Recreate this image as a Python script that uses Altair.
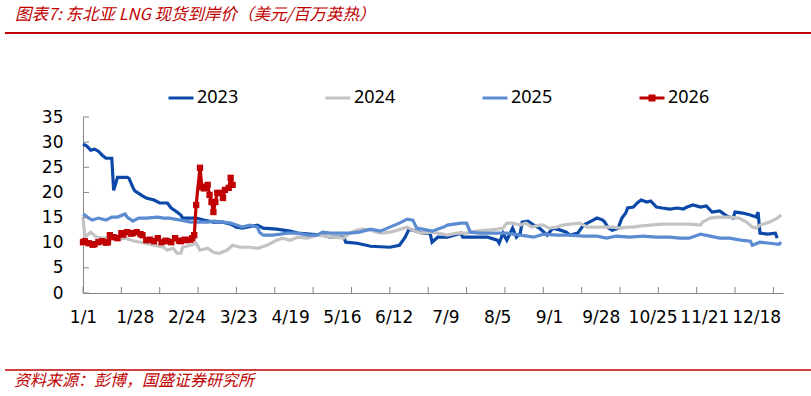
import altair as alt
import pandas as pd

# ---------------- data ----------------
series_names = ["2023", "2024", "2025", "2026"]
series_colors = ["#0B48A8", "#C3C3C3", "#5B8BD0", "#C00000"]

s2023 = [(0, 29.6), (2, 29.2), (4, 28.4), (6, 28.6), (8, 28.2), (10, 27.4), (12, 26.8), (15, 26.8),
         (16, 20.4), (18, 23.0), (23, 23.0), (24, 22.8), (26, 21.0), (27, 20.3), (31, 19.3), (33, 18.9),
         (37, 18.5), (40, 17.9), (44, 17.9), (46, 16.9), (49, 16.1), (51, 15.5), (52, 14.9), (54, 14.9),
         (59, 14.9), (63, 14.5), (68, 14.1), (73, 14.1), (77, 13.7), (80, 13.1), (83, 12.9), (91, 13.5),
         (94, 12.9), (101, 12.7), (108, 12.3), (112, 11.9), (118, 11.7), (125, 11.5), (129, 11.1),
         (136, 11.1), (137, 10.1), (143, 9.9), (150, 9.3), (160, 9.1), (165, 9.5), (168, 11.1),
         (170, 12.7), (172, 12.5), (177, 11.9), (181, 11.9), (182, 10.1), (185, 11.1), (190, 11.1),
         (197, 11.9), (198, 11.1), (203, 11.1), (211, 11.1), (216, 10.5), (217, 9.9), (219, 11.9),
         (221, 10.5), (224, 12.9), (226, 11.1), (228, 11.9), (229, 14.1), (232, 14.3), (235, 13.5),
         (238, 12.9), (242, 11.5), (245, 12.9), (249, 12.5), (252, 12.1), (254, 11.5), (258, 11.9),
         (261, 13.5), (264, 14.1), (268, 14.9), (271, 14.5), (272, 14.1), (274, 12.9), (276, 12.5),
         (279, 12.9), (281, 14.9), (283, 15.9), (284, 16.9), (287, 17.1), (289, 17.9), (291, 18.5),
         (294, 18.1), (296, 18.3), (299, 17.1), (302, 16.9), (306, 16.7), (310, 16.9), (313, 16.7),
         (315, 17.1), (318, 17.5), (322, 17.1), (325, 17.3), (328, 16.1), (332, 16.3), (335, 15.5),
         (337, 15.1), (339, 14.9), (340, 16.1), (344, 15.9), (348, 15.5), (351, 15.1), (352, 16.1),
         (353, 11.9), (357, 11.7), (361, 11.9), (362, 10.9)]

s2024 = [(0, 15.1), (1, 11.1), (4, 12.1), (7, 11.1), (10, 10.9), (14, 11.0), (18, 10.6), (22, 10.9),
         (26, 10.4), (30, 10.1), (33, 9.9), (37, 9.5), (42, 9.1), (44, 8.5), (47, 8.9), (49, 7.9),
         (51, 7.9), (52, 9.1), (56, 9.5), (59, 9.9), (61, 8.5), (65, 8.9), (68, 8.1), (71, 7.9),
         (75, 8.5), (78, 9.5), (82, 9.1), (87, 9.1), (91, 8.9), (96, 9.5), (101, 10.5), (104, 10.9),
         (108, 10.5), (112, 11.1), (117, 10.9), (122, 11.5), (127, 11.3), (130, 11.1), (136, 10.9),
         (139, 11.9), (143, 12.5), (146, 12.7), (150, 12.5), (153, 12.1), (156, 11.9), (160, 12.1),
         (164, 12.5), (169, 13.1), (172, 12.5), (176, 11.9), (181, 12.1), (185, 11.9), (190, 11.5),
         (195, 11.9), (200, 11.9), (205, 12.3), (211, 12.5), (216, 12.7), (219, 12.9), (221, 13.9),
         (224, 13.9), (228, 13.5), (231, 13.9), (234, 13.1), (238, 13.5), (240, 13.5), (243, 12.9),
         (247, 13.1), (250, 13.5), (254, 13.7), (259, 13.9), (263, 13.1), (266, 13.1), (271, 13.1),
         (276, 13.1), (280, 12.9), (284, 13.1), (287, 13.1), (290, 13.3), (296, 13.5), (302, 13.7),
         (310, 13.7), (316, 13.7), (322, 13.5), (323, 14.1), (327, 14.9), (332, 15.1), (337, 15.1),
         (342, 14.9), (346, 14.1), (349, 13.1), (351, 12.9), (353, 13.5), (358, 14.1), (362, 14.9),
         (364, 15.5)]

s2025 = [(0, 15.7), (1, 15.5), (3, 14.9), (5, 14.5), (8, 14.9), (12, 14.5), (15, 15.1), (18, 15.1),
         (22, 15.7), (23, 15.1), (26, 14.3), (29, 14.9), (33, 14.9), (39, 15.1), (42, 14.9), (45, 14.9),
         (51, 14.5), (56, 14.1), (61, 14.1), (65, 14.1), (68, 14.3), (73, 14.1), (77, 13.9), (80, 13.5),
         (83, 13.1), (87, 13.5), (91, 13.1), (92, 12.1), (94, 11.5), (99, 11.5), (103, 11.7),
         (106, 11.9), (112, 11.9), (117, 11.5), (122, 11.5), (125, 12.1), (129, 11.9), (134, 11.9),
         (139, 11.9), (144, 12.1), (150, 12.7), (155, 12.3), (160, 13.1), (165, 13.9), (169, 14.7),
         (172, 14.5), (174, 12.9), (177, 12.7), (182, 12.3), (188, 13.1), (190, 13.5), (197, 13.9),
         (200, 13.9), (202, 12.1), (207, 11.9), (214, 11.9), (221, 11.9), (228, 11.5), (235, 11.1),
         (240, 11.7), (247, 11.5), (254, 11.5), (261, 11.3), (268, 11.3), (273, 10.9), (278, 11.3),
         (285, 11.1), (292, 11.3), (299, 11.1), (306, 11.1), (311, 10.9), (316, 10.9), (322, 11.7),
         (327, 11.3), (332, 10.9), (337, 10.9), (343, 10.5), (348, 10.3), (349, 9.5), (353, 10.1),
         (358, 9.9), (363, 9.7), (364, 10.1)]

s2026 = [(0, 10.1), (1, 10.3), (3, 9.9), (5, 9.6), (6, 9.7), (8, 10.1), (10, 10.3), (12, 10.0),
         (13, 10.1), (14, 11.5), (16, 11.1), (18, 10.9), (20, 11.9), (21, 11.6), (23, 12.1), (25, 11.8),
         (26, 11.9), (28, 12.1), (30, 11.7), (31, 11.5), (33, 10.5), (35, 10.6), (37, 10.3), (39, 10.9),
         (41, 10.1), (43, 10.4), (44, 10.3), (46, 10.1), (48, 10.9), (50, 10.4), (51, 10.3), (53, 10.6),
         (54, 10.5), (56, 10.6), (57, 10.9), (58, 11.5), (59, 17.5), (61, 24.9), (62, 21.1), (63, 20.8),
         (64, 21.1), (65, 21.5), (66, 19.5), (67, 18.1), (68, 16.1), (69, 18.1), (70, 19.9), (71, 19.9),
         (73, 18.9), (74, 20.5), (76, 20.9), (77, 22.9), (78, 21.5)]

label_days = [0, 27, 54, 81, 108, 135, 162, 189, 216, 243, 270, 297, 324, 351]
tick_days = [0, 20, 40, 60, 80, 100, 120, 140, 160, 180, 200, 220, 240, 260, 280, 300, 320, 340, 360]
y_ticks = [0, 5, 10, 15, 20, 25, 30, 35]

title_text = "图表7:  东北亚 LNG 现货到岸价（美元/百万英热）"
source_text = "资料来源：彭博，国盛证券研究所"

# ---------------- build table ----------------
rows = []
for name, pts in zip(series_names, [s2023, s2024, s2025, s2026]):
    for d, v in pts:
        rows.append({"series": name, "day": d, "value": v})
df = pd.DataFrame(rows)
df_red = df[df["series"] == "2026"]

W, H = 700, 176
RED = "#C00000"
AXIS = "#868686"

xscale = alt.Scale(domain=[0, 365], nice=False, zero=False)
yscale = alt.Scale(domain=[0, 35], nice=False)

xaxis = alt.Axis(
    values=label_days, ticks=False, grid=False, title=None,
    labelExpr="timeFormat(datetime(2023, 0, 1 + datum.value), '%-m/%-d')",
    labelFont="DejaVu Sans", labelFontSize=17, labelColor="#000000", labelPadding=16,
    domainColor=AXIS, labelOverlap=False, labelFlush=False)
yaxis = alt.Axis(
    values=y_ticks, ticks=False, grid=False, title=None, labelOverlap=False,
    labelFont="DejaVu Sans", labelFontSize=17, labelColor="#000000", labelPadding=20,
    labelBaseline="middle", labelFlush=False, domainColor=AXIS)

square_path = "M-1,0L1,0M-0.16,-0.16L0.16,-0.16L0.16,0.16L-0.16,0.16Z"

legend = alt.Legend(
    orient="none", legendX=84, legendY=-33, direction="horizontal", columns=4,
    columnPadding=80, title=None, padding=0,
    symbolType=alt.ExprRef(expr=f"datum.value === '2026' ? '{square_path}' : 'stroke'"),
    symbolSize=625, symbolStrokeWidth=3, labelFont="Noto Sans", labelFontSize=18,
    labelColor="#000000", labelOffset=2,
)

lines = alt.Chart(df).mark_line(strokeWidth=3.2, interpolate="linear").encode(
    x=alt.X("day:Q", scale=xscale, axis=xaxis),
    y=alt.Y("value:Q", scale=yscale, axis=yaxis),
    color=alt.Color("series:N", scale=alt.Scale(domain=series_names, range=series_colors), legend=legend),
    detail="series:N",
)

markers = alt.Chart(df_red).mark_point(shape="square", filled=True, size=40, opacity=1).encode(
    x=alt.X("day:Q", scale=xscale, axis=xaxis),
    y=alt.Y("value:Q", scale=yscale, axis=yaxis),
    color=alt.value(RED),
)

xticks = alt.Chart(pd.DataFrame({"day": tick_days})).mark_rule(color=AXIS, strokeWidth=1).encode(
    x=alt.X("day:Q", scale=xscale, axis=xaxis), y=alt.value(H), y2=alt.value(H - 6))

yticks = alt.Chart(pd.DataFrame({"value": y_ticks})).mark_rule(color=AXIS, strokeWidth=1).encode(
    y=alt.Y("value:Q", scale=yscale, axis=yaxis), x=alt.value(0), x2=alt.value(6))

texts = pd.DataFrame({"t": [title_text]})
title = alt.Chart(texts).mark_text(
    align="left", baseline="middle", font="Noto Sans CJK SC", fontSize=16.5, fontStyle="italic",
    color=RED).encode(x=alt.value(-68), y=alt.value(-102), text="t:N")

src = alt.Chart(pd.DataFrame({"t": [source_text]})).mark_text(
    align="left", baseline="middle", font="Noto Sans CJK SC", fontSize=16, fontStyle="italic",
    color=RED).encode(x=alt.value(-69), y=alt.value(264), text="t:N")

top_line = alt.Chart(texts).mark_rule(color=RED, strokeWidth=2).encode(
    x=alt.value(-78), x2=alt.value(728), y=alt.value(-84))
bottom_line = alt.Chart(texts).mark_rule(color=RED, strokeWidth=1.5).encode(
    x=alt.value(-78), x2=alt.value(728), y=alt.value(253))

chart = alt.layer(
    lines, xticks, yticks, markers, title, src, top_line, bottom_line
).properties(
    width=W, height=H,
    autosize=alt.AutoSizeParams(type="none"),
    padding={"left": 83, "top": 117, "right": 28, "bottom": 103},
    background="#FFFFFF",
).configure_view(stroke=None)

chart.save("out.html", embed_options={"renderer": "svg", "actions": False})
